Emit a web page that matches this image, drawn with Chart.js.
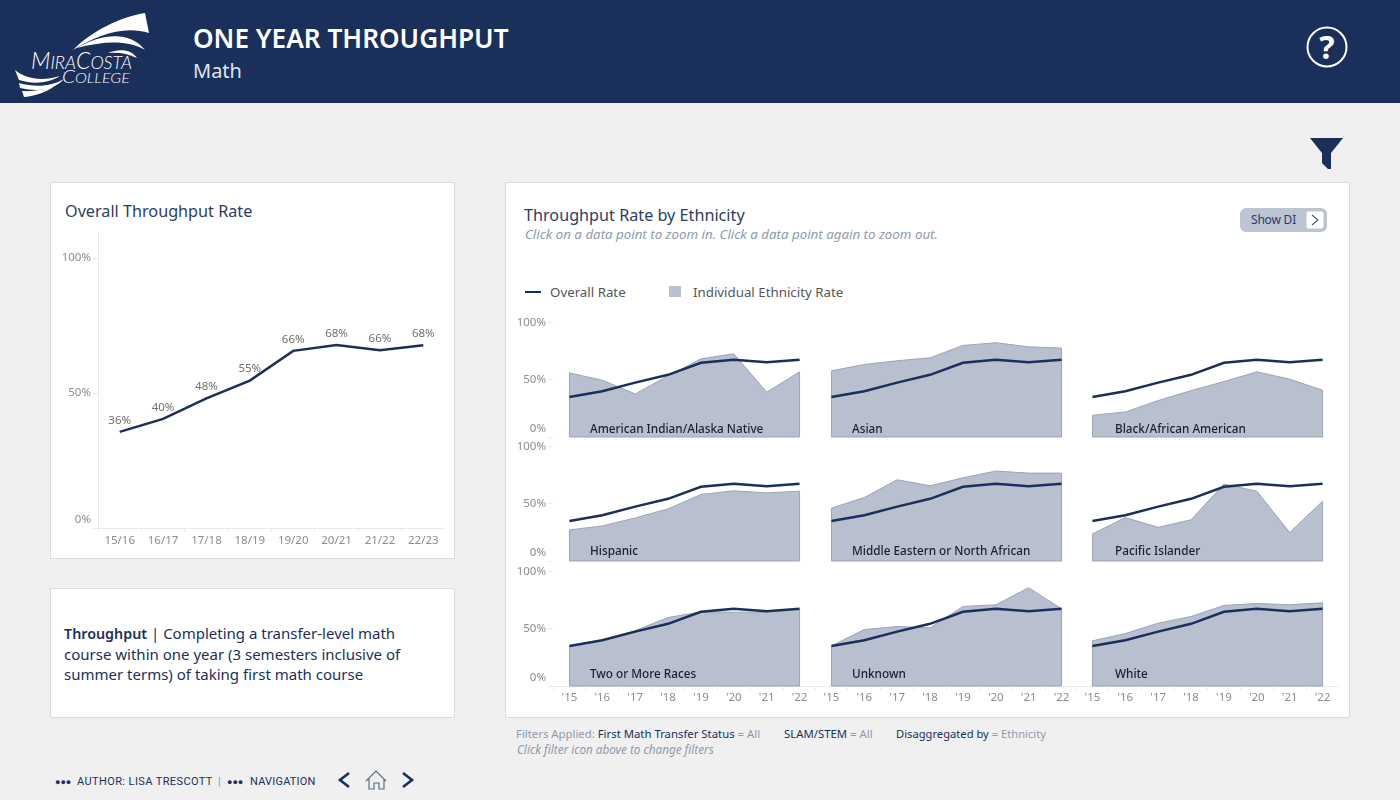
<!DOCTYPE html>
<html>
<head>
<meta charset="utf-8">
<title>One Year Throughput</title>
<script src="https://cdn.jsdelivr.net/npm/chart.js@4"></script>
<style>
  html, body { margin: 0; padding: 0; }
  body { width: 1400px; height: 800px; overflow: hidden; position: relative; background: #f0f0f0;
         font-family: "Noto Sans", sans-serif; color: #1b2f5b; }
  .abs { position: absolute; white-space: nowrap; }
  .card { position: absolute; background: #fff; border: 1px solid #d8dce3; box-sizing: border-box; }
  canvas { position: absolute; }
  .name { position: absolute; white-space: nowrap; font-size: 12.5px; font-weight: 500; color: #1a2030; line-height: 16px;
          transform: scaleX(.94); transform-origin: left center; }
  .gray { color: #8f9aad; }
  .crumb { font-family: Roboto, sans-serif; font-size: 11px; letter-spacing: .4px; line-height: 14px; }
  .dots { font-size: 9px; letter-spacing: 0; }
</style>
</head>
<body>

<!-- header band -->
<div class="abs" style="left:0;top:0;width:1400px;height:103px;background:#1b2f5b"></div>
<svg class="abs" style="left:0;top:0" width="170" height="103">
  <path fill="#fff" d="M73 50C92 31 120 17 145 13L149 33C124 25 97 35 73 50Z"/>
  <path fill="#fff" d="M77 48C102 33 130 31 145 50C127 40 105 41 77 48Z"/>
  <path fill="#fff" d="M108 53C120 48 132 50 137 58C127 53 118 52 108 53Z"/>
  <path fill="#fff" d="M15 70C25 78 40 82 60 76C47 84 32 84 19 80Z"/>
  <path fill="#fff" d="M19 83C36 88 52 86 64 79C54 90 38 92 20 88Z"/>
  <path fill="#fff" d="M22 91C36 92 50 88 58 83C50 91 36 96 24 97Z"/>
  <text x="31" y="69" fill="#fff" font-family="Lato" font-weight="300" font-size="23" font-style="italic" textLength="101" lengthAdjust="spacingAndGlyphs">M<tspan font-size="18">IRA</tspan>C<tspan font-size="18">OSTA</tspan></text>
  <text x="62" y="83" fill="#fff" font-family="Lato" font-weight="300" font-size="18" font-style="italic" textLength="68" lengthAdjust="spacingAndGlyphs">C<tspan font-size="14">OLLEGE</tspan></text>
</svg>
<div class="abs" style="left:193px;top:20px;font-size:26.2px;font-weight:600;color:#fff;line-height:36px">ONE YEAR THROUGHPUT</div>
<div class="abs" style="left:193px;top:57px;font-size:20px;color:#dfe4ec;line-height:28px">Math</div>
<svg class="abs" style="left:1305px;top:25px" width="46" height="46">
  <circle cx="22" cy="22" r="19.5" fill="none" stroke="#fff" stroke-width="2"/>
  <text x="22" y="33.5" fill="#fff" text-anchor="middle" font-family="'Noto Sans'" font-weight="700" font-size="32">?</text>
</svg>
<svg class="abs" style="left:1308px;top:136px" width="38" height="36">
  <path fill="#1b2f5b" d="M2 2H35L23 17V33H20L14 27V17Z"/>
</svg>

<!-- cards -->
<div class="card" style="left:50px;top:182px;width:405px;height:377px"></div>
<div class="card" style="left:50px;top:588px;width:405px;height:130px"></div>
<div class="card" style="left:505px;top:182px;width:845px;height:536px"></div>

<div class="abs" style="left:65px;top:200px;font-size:16.2px;line-height:22px;color:#2c3e66">Overall Throughput Rate</div>
<div class="abs" style="left:64px;top:623px;font-size:15px;line-height:20px">
  <b style="font-weight:600;font-size:14.3px">Throughput</b> | Completing a transfer-level math<br>
  course within one year (3 semesters inclusive of<br>
  summer terms) of taking first math course
</div>

<div class="abs" style="left:524px;top:204px;font-size:16.2px;line-height:22px;color:#2c3e66">Throughput Rate by Ethnicity</div>
<div class="abs gray" style="left:525px;top:226px;font-size:13.3px;font-style:italic;line-height:17px">Click on a data point to zoom in. Click a data point again to zoom out.</div>

<div class="abs" style="left:1240px;top:208px;width:87px;height:24px;background:#bdc4d4;border-radius:6px"></div>
<div class="abs" style="left:1251px;top:211px;font-size:12px;line-height:18px;letter-spacing:-.2px;color:#2c3b63">Show DI</div>
<svg class="abs" style="left:1306px;top:211px" width="18" height="18">
  <rect x="0.5" y="0.5" width="17" height="17" rx="2" fill="#fff"/>
  <path d="M6 4L12 9L6 14" fill="none" stroke="#55617f" stroke-width="1.2"/>
</svg>

<!-- legend -->
<div class="abs" style="left:525px;top:291px;width:16px;height:2px;background:#1b2f5b"></div>
<div class="abs" style="left:550px;top:283px;font-size:13.3px;line-height:18px;color:#555">Overall Rate</div>
<div class="abs" style="left:669px;top:286px;width:12px;height:11px;background:#b8bfce"></div>
<div class="abs" style="left:693px;top:283px;font-size:13.3px;line-height:18px;color:#555">Individual Ethnicity Rate</div>

<!-- footnotes -->
<div class="abs gray" style="left:516px;top:726px;font-size:11.35px;line-height:16px">Filters Applied: <span style="color:#1b2f5b">First Math Transfer Status</span> = All</div>
<div class="abs gray" style="left:784px;top:726px;font-size:11.35px;line-height:16px"><span style="color:#1b2f5b">SLAM/STEM</span> = All</div>
<div class="abs gray" style="left:896px;top:726px;font-size:11.2px;line-height:16px"><span style="color:#1b2f5b">Disaggregated by</span> = Ethnicity</div>
<div class="abs gray" style="left:517px;top:741px;font-size:11.7px;font-style:italic;line-height:16px">Click filter icon above to change filters</div>

<div class="abs crumb dots" style="left:55px;top:775px">●●●</div>
<div class="abs crumb" style="left:77px;top:775px">AUTHOR: LISA TRESCOTT</div>
<div class="abs crumb" style="left:218px;top:775px;color:#8090b5">|</div>
<div class="abs crumb dots" style="left:227px;top:775px">●●●</div>
<div class="abs crumb" style="left:250px;top:775px;letter-spacing:.2px">NAVIGATION</div>
<svg class="abs" style="left:335px;top:767px" width="85" height="28">
  <path d="M14 6L5 13L14 20" fill="none" stroke="#1b2f5b" stroke-width="2.6"/>
  <path d="M68 6L77 13L68 20" fill="none" stroke="#1b2f5b" stroke-width="2.6"/>
  <path d="M31 14L41 4L51 14M34 12V22H39V16H44V22H49V12" fill="none" stroke="#5f6d8c" stroke-width="1.2"/>
</svg>

<canvas id="overallChart" width="395" height="327" style="left:50px;top:231px"></canvas>

<script>
'use strict';

// overall throughput, labelled 36, 40, 48, 55, 66, 68, 66, 68 in the picture
var overallYears = ['15/16','16/17','17/18','18/19','19/20','20/21','21/22','22/23'];
var overallRate = [35.6, 40.4, 48.0, 54.6, 65.6, 67.8, 65.8, 67.7];
var rateTicks = [0, 50, 100];

// small multiples
var facetYears = ["'15","'16","'17","'18","'19","'20","'21","'22"];
var facetOverall = [35.0, 40.0, 47.6, 54.4, 65.0, 67.5, 65.4, 67.5];
var americanIndian = [56.1, 49.7, 37.7, 53.5, 68.4, 72.8, 39.2, 57.0];
var asian = [57.9, 63.5, 66.7, 69.3, 80.1, 82.5, 78.9, 77.8];
var black = [19.0, 21.9, 31.9, 40.6, 48.5, 57.0, 50.6, 40.9];
var hispanic = [27.2, 30.7, 37.7, 45.6, 58.2, 61.4, 59.6, 61.1];
var middleEastern = [46.2, 55.6, 71.1, 65.8, 72.8, 78.7, 76.9, 76.9];
var pacificIslander = [23.7, 38.0, 29.5, 36.0, 67.3, 61.1, 24.9, 52.3];
var twoOrMore = [35.1, 40.4, 48.5, 59.9, 64.9, 64.6, 64.6, 67.5];
var unknown = [35.1, 49.4, 52.0, 50.9, 69.6, 71.0, 86.0, 67.5];
var white = [39.5, 45.9, 55.0, 60.8, 70.5, 72.2, 71.1, 72.8];

var ethnicityNames = ['American Indian/Alaska Native','Asian','Black/African American',
  'Hispanic','Middle Eastern or North African','Pacific Islander',
  'Two or More Races','Unknown','White'];
var ethnicityRates = [americanIndian, asian, black, hispanic, middleEastern, pacificIslander, twoOrMore, unknown, white];

var NAVY = '#1b2f5b', AREA = '#b8bfce', AREA_EDGE = '#9aa3b9', TICK = '#8c8c8c', FAINT = '#e9e9e9';
var tickFont = { family: '"Noto Sans"', size: 11.5, lineHeight: 1.39 };

// tableau nudges the bottom label up so it stays inside the pane
function percentLabel(v) {
  return v === 0 ? ['0%', ''] : v + '%';
}

function fixedTicks(scale) {
  scale.ticks = rateTicks.map(function(v) { return { value: v }; });
}

// keep the plot box fixed, chart.js would otherwise pad it for the tick labels
function fixBox(size) {
  return function(s) {
    if (s.isHorizontal()) s.height = size; else s.width = size;
    s.paddingTop = s.paddingBottom = s.paddingLeft = s.paddingRight = 0;
  };
}

// value labels above the overall line
var valueLabels = {
  id: 'valueLabels',
  afterDatasetsDraw: function(chart) {
    var ctx = chart.ctx;
    ctx.save();
    ctx.font = '11.5px "Noto Sans"';
    ctx.fillStyle = '#6e6e6e';
    ctx.textAlign = 'center';
    ctx.textBaseline = 'middle';
    chart.getDatasetMeta(0).data.forEach(function(pt, i) {
      ctx.fillText(Math.round(overallRate[i]) + '%', pt.x, pt.y - 11.5);
    });
    ctx.restore();
  }
};

// outline the sides and the bottom of the area, the filler only strokes the top
var areaEdges = {
  id: 'areaEdges',
  afterDatasetDraw: function(chart, args) {
    if (args.index !== 1) return;
    var pts = args.meta.data;
    var first = pts[0], last = pts[pts.length - 1];
    var base = chart.scales.y.getPixelForValue(0);
    var ctx = chart.ctx;
    ctx.save();
    ctx.strokeStyle = AREA_EDGE;
    ctx.lineWidth = 1;
    ctx.beginPath();
    ctx.moveTo(first.x, first.y);
    ctx.lineTo(first.x, base);
    ctx.lineTo(last.x, base);
    ctx.lineTo(last.x, last.y);
    ctx.stroke();
    ctx.restore();
  }
};

new Chart(document.getElementById('overallChart'), {
  type: 'line',
  data: {
    labels: overallYears,
    datasets: [{ data: overallRate, borderColor: NAVY, borderWidth: 2.5, pointRadius: 0, tension: 0 }]
  },
  plugins: [valueLabels],
  options: {
    responsive: false,
    animation: false,
    plugins: { legend: { display: false } },
    scales: {
      x: {
        offset: true,
        grid: { offset: true, drawOnChartArea: false, color: FAINT, tickLength: 4 },
        border: { color: FAINT },
        ticks: { color: TICK, font: tickFont, padding: 1, maxRotation: 0, autoSkip: false },
        afterFit: fixBox(30)
      },
      y: {
        min: 0,
        max: 110,
        afterBuildTicks: fixedTicks,
        grid: { drawOnChartArea: false, color: FAINT, tickLength: 5 },
        border: { color: FAINT },
        ticks: { color: TICK, font: tickFont, padding: 2, callback: percentLabel },
        afterFit: fixBox(48)
      }
    }
  }
});

// one chart per ethnicity, 3 x 3
var colLeft = [505, 767, 1028];
var rowTop = [317, 441, 566];
var nameLeft = [590, 852, 1115];
var nameTop = [421, 543, 666];

ethnicityNames.forEach(function(name, i) {
  var col = i % 3, row = Math.floor(i / 3);
  var cv = document.createElement('canvas');
  cv.width = 311;
  cv.height = 144;
  cv.style.left = colLeft[col] + 'px';
  cv.style.top = rowTop[row] + 'px';
  document.body.appendChild(cv);

  var showX = row === 2, showY = col === 0;
  new Chart(cv, {
    type: 'line',
    data: {
      labels: facetYears,
      datasets: [
        { data: facetOverall, borderColor: NAVY, borderWidth: 2.5, pointRadius: 0, tension: 0 },
        { data: ethnicityRates[i], borderColor: AREA_EDGE, borderWidth: 1, backgroundColor: AREA,
          fill: 'origin', pointRadius: 0, tension: 0 }
      ]
    },
    plugins: [areaEdges],
    options: {
      responsive: false,
      animation: false,
      plugins: { legend: { display: false } },
      scales: {
        x: {
          offset: true,
          grid: { display: showX, offset: true, drawOnChartArea: false, color: FAINT, tickLength: 4 },
          border: { display: showX, color: FAINT },
          ticks: { display: showX, color: TICK, font: tickFont, padding: 0, maxRotation: 0, autoSkip: false },
          afterFit: fixBox(24)
        },
        y: {
          min: 0,
          max: 105,
          afterBuildTicks: fixedTicks,
          grid: { display: showY, drawOnChartArea: false, color: FAINT, tickLength: 5 },
          border: { display: false },
          ticks: { display: showY, color: TICK, font: tickFont, padding: 2, callback: percentLabel },
          afterFit: fixBox(48)
        }
      }
    }
  });

  var label = document.createElement('div');
  label.className = 'name';
  label.style.left = nameLeft[col] + 'px';
  label.style.top = nameTop[row] + 'px';
  label.textContent = name;
  document.body.appendChild(label);
});
</script>
</body>
</html>
